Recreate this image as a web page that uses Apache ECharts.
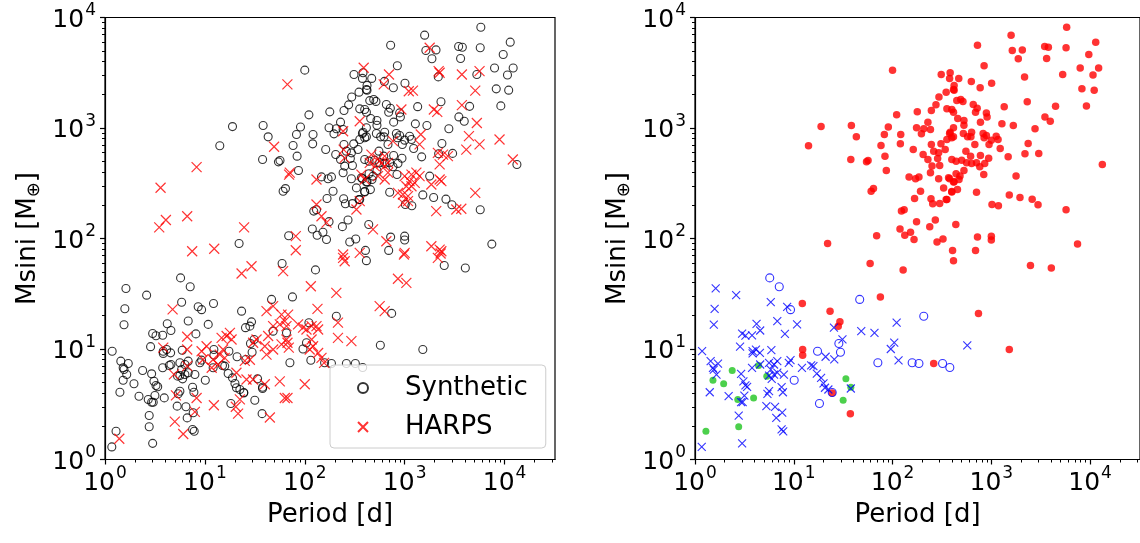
<!DOCTYPE html>
<html><head><meta charset="utf-8">
<script src="https://cdn.jsdelivr.net/npm/echarts@6/dist/echarts.min.js"></script>
<style>html,body{margin:0;padding:0;background:#fff}#c{width:1140px;height:543px}</style>
</head><body><div id="c"></div>
<script>
// ---- tick values ----
const majorTicks = [1, 10, 100, 1000, 10000];
const xMinorTicks = [2,3,4,5,6,7,8,9,20,30,40,50,60,70,80,90,200,300,400,500,600,700,800,900,2000,3000,4000,5000,6000,7000,8000,9000,20000,30000];
const yMinorTicks = [2,3,4,5,6,7,8,9,20,30,40,50,60,70,80,90,200,300,400,500,600,700,800,900,2000,3000,4000,5000,6000,7000,8000,9000];

// ---- synthetic planets [period d, Msini Mearth] by class ----
const synGiant = [
[100,3340],[311,3050],[383,3160],[378,2810],[414,2230],[349,2110],[295,1910],[275,1620],[247,1440],[178,1400],[355,1490],[414,1390],[110,1315],[18.9,1030],[38.3,1055],[43,832],[14.1,690],[37.8,519],[54.5,494],[56.5,508],[90.6,1020],[82.6,873],[121,873],[76.4,695],[120,719],[83.8,556],[86.5,412],[175,1005],[228,1130],[207,984],[242,968],[196,885],[162,638],[204,575],[247,708],[309,719],[261,617],[293,596],[286,530],[228,519],[341,638],[378,891],[398,815],[251,452],[300,458],[242,394],[147,361],[185,361],[369,354],
[5790,8170],[1585,6920],[724,5610],[3470,5470],[3780,5380],[11400,5980],[5710,5320],[1630,5020],[2060,5090],[1875,4230],[3630,4260],[9700,4620],[845,3660],[7940,3490],[12200,3490],[10700,3020],[5280,3050],[2170,2900],[468,2810],[627,2640],[771,2310],[1007,2540],[8260,2260],[11000,2200],[9180,1585],[420,2430],[420,2200],[2310,1730],[4470,1570],[1350,1560],[3490,1260],[3950,1150],[447,1770],[490,1810],[516,1740],[656,1630],[719,1510],[692,1390],[891,1370],[906,1260],[398,1470],[457,1220],[528,1170],[528,1060],[776,1130],[1280,1090],[1670,1055],[2770,984],[414,1005],[383,916],[414,832],[355,787],[521,891],[575,832],[631,916],[621,832],[826,891],[891,855],[845,815],[1000,776],[1120,843],[1170,787],[948,710],[681,710],[1230,653],[2360,724],[2190,585],[3020,589],[1480,548],[776,564],[940,533],[617,556],[553,617],[398,519],[440,501],[501,512],[562,484],[631,478],[708,484],[857,478],[764,446],[13300,468],[838,379],[1780,367],[440,385],[482,367],[528,412],
[378,347],[420,326],[471,342],[454,277],[398,266],[355,225],[708,262],[1520,248],[1950,235],[2590,227],[2970,202],[5710,182],[1016,203],[1180,198],[437,134],[724,103],[1000,105],[1000,97],[7460,89],[405,78],[414,63],[692,78],[2490,57],[4050,54],[741,21],[1520,9.9],
[171,347],[293,347],[414,324],[60.7,268],[64.1,283],[192,268],[329,287],[398,264],[167,230],[245,229],[255,206],[300,207],[349,225],[123,177],[131,182],[175,142],[271,147],[238,128],[119,122],[133,107],[152,114],[165,98],[282,93],[324,99],[69,106],[22,90],[59.3,59.4],[128,52],[75.3,29.6],[12.2,25.8],[23.3,22],[29.3,17.6],[28.2,16.1],[12.3,9.9],[12.3,8.8],[24.5,4.0],[37.4,2.6],[261,7.4]
];
const synLowX = [
[1.62,35.3],[2.61,30.7],[1.58,23.1],[5.85,26.5],[8.57,24.1],[1.55,16.6],[4.2,16.9],[4.57,14.7],[6.81,17.9],[10.8,16.7],[8.13,13.7],[3.0,13.8],[3.24,13.2],[3.78,13.3],[2.86,10.5],[1.18,9.55],[3.83,9.55],[4.14,9.89],[4.54,9.23],[5.93,9.75],[3.83,9.12],[1.44,7.76],[1.71,7.39],[1.52,6.76],[1.65,5.87],[1.55,6.52],[3.78,6.76],[4.57,7.24],[5.62,7.5],[6.31,7.24],[6.81,7.76],[5.85,6.52],[9.27,7.93],[8.91,7.5],[12.1,6.76],[15.0,7.1],[15.8,7.0],[2.93,5.96],[3.09,5.1],[3.24,4.68],[3.37,4.55],[3.16,3.79],[2.93,3.3],[3.04,3.3],[1.41,4.06],[2.19,3.74],[5.62,5.75],[6.31,5.87],[6.81,6.1],[7.94,5.87],[5.98,5.37],[7.53,4.51],[7.76,4.06],[5.62,4.15],[5.41,3.93],[5.28,3.04],[6.46,3.0],[6.65,2.38],[7.64,2.65],[7.53,1.87],[7.82,1.8],[2.77,2.5],[3.0,1.4],[1.17,1.3],[17.1,6.0],[18.9,5.48],[20.0,4.88],[20.7,4.46],[22.4,4.3],[21.0,8.51],[25.7,8.04],[31.1,12.2],[25.5,15.6],[48.2,14.5],[37.8,4.39],[110,17.3],[571,10.8],[65.6,14],[96,10],[104,11.4],[115,7.9]
];
const synLowO = [[5.71,44],[7.13,36.6],[9.27,22.7],[46.5,28.1],[207,19.8],[17.4,9.55],[29.7,9.35],[28.6,11.2],[10.1,5.22],[18.2,3.21],[24.5,4.04],[380,6.8],[71,7.5],[158,7.5],[185,7.4],[321,7.4]];
const synGreen = [[2.38,6.38],[1.52,5.22],[1.95,4.84],[4.4,7.08],[5.33,5.68],[2.71,3.49],[3.92,3.61],[2.77,1.98],[1.29,1.8],[33.7,5.37],[37.8,4.51],[31.6,3.44]];

// ---- HARPS planets [period d, Msini Mearth] ----
const harps = [
[67,2480],[49.3,676],[8.26,442],[69.7,379],[3.6,288],[6.65,159],[4.07,147],[3.49,126],[24.7,126],[7.46,76.7],[12.4,80.7],[81.3,105],[81.3,78.3],
[389,3510],[697,3050],[617,2480],[1780,5320],[2190,3270],[1100,2150],[1210,2180],[2120,1400],[1960,1470],[927,1470],[355,1150],[242,935],[1450,873],[764,760],[1410,710],[2150,596],[245,638],[251,537],[465,575],[541,526],[631,556],[447,484],[501,452],[585,478],[631,452],[681,484],[70.8,394],[131,342],[369,379],[398,342],[541,367],[631,342],[681,394],[1000,367],[1170,379],[1310,394],[1410,367],[1120,331],[1040,297],[1170,297],[1260,319],[857,259],[962,250],[1080,242],[1850,308],[2240,342],[2070,177],[962,210],[1080,218],[355,218],[329,183],[131,203],[147,159],[165,139],[482,121],[656,94.4],[1850,85.1],[1000,74.1],[242,71.6],[355,74.1],[2240,79.4],
[2240,3160],[3740,3050],[5620,3270],[5090,2180],[3740,1610],[5280,1110],[4400,843],[5620,710],[4140,638],[8910,787],[12100,519],[2420,575],[2710,556],[2240,468],[2330,331],[5090,259],[3290,183],[3690,186],[2330,76.7],[2150,66.8],
[242,66.8],[251,62.2],[984,71.6],[2290,73.1],[857,43.2],[1040,39.7],[115,37],[207,32.2],[134,23.1],[562,24.4],[631,22],[68.1,20.5],[65.6,16.1],[85.7,16.7],[96.2,15.6],[104,15],[117,16.1],[131,16.1],[136,15],[215,17.3],[215,12.6],[293,11.8],[67.1,11.4],[69.2,10.3],[117,12.2],[121,10.6],[112,9.9],[136,9.2],[147,8.3],[156,7.5],[100,4.8],[67.1,3.6],
[23.3,48.2],[29.3,56.1],[60.7,50.6],[4.75,22.8],[3.83,10.3],[6.65,12.9],[6.65,9.9],[4.9,5.9],[6.65,7.0],[5.13,3.8],[8.26,3.6],[7.94,2.7],[5.0,2.2],[6.07,1.7],[1.39,1.54],[12.3,3.1],[9.27,9.55],[10.4,10.6],[9.62,8.04],[12.1,8.04],[11.7,6.76],[14.7,12.6],[16.5,13.1],[17.8,14],[18.5,12.2],[15.2,9.9],[14.1,8.9],[15.8,8.3],[13.6,7.2],[20.7,6.1],[25.1,7.8],[28.2,8.0],[26.1,5.3],[20.4,3.0],[22.4,3.5],[21.5,2.6],[30.4,11.4],[32.9,12.2],[39.8,10.6],[41.4,22],[48.2,24.4],[58.5,20.5],[63.1,17.9],[48.2,16.1],[56.2,16.7],[43,13.1],[41.4,8.9],[48.2,9.9],[58.5,11],[65.6,12.2],[30.4,5.3],[39.8,4.8],[56.2,5.1],[44.7,2.4],[63.1,3.6]
];

const FONT = 'DejaVu Sans';
const XMAX = 32000, YMAX = 10000;
const X_SYMBOL = 'path://M0,0L10,10M0,10L10,0';

const tickRich = {
  b: {fontSize: 25, fontFamily: FONT, color: '#000', lineHeight: 30, verticalAlign: 'bottom'},
  p: {fontSize: 17, fontFamily: FONT, color: '#000', lineHeight: 14, verticalAlign: 'top', padding: [0, 0, 0, 1]}
};
function powLabel(v) {
  const e = Math.round(Math.log10(v));
  return '{b|10}{p|' + e + '}';
}
const nameStyle = {fontSize: 26, fontFamily: FONT, color: '#000', lineHeight: 30,
  rich: {s: {fontSize: 18, fontFamily: FONT, color: '#000', lineHeight: 14, verticalAlign: 'bottom'}}};

function xMain(g) {
  return {type: 'log', logBase: 10, gridIndex: g, min: 1, max: XMAX, position: 'bottom',
    name: 'Period [d]', nameLocation: 'middle', nameGap: 22, nameTextStyle: nameStyle,
    axisLine: {show: true, lineStyle: {color: '#000', width: 1.2}},
    splitLine: {show: false}, minorTick: {show: false},
    axisTick: {show: true, length: 5, lineStyle: {color: '#000', width: 1.2}, customValues: majorTicks},
    axisLabel: {customValues: majorTicks, formatter: powLabel, rich: tickRich, margin: 6}};
}
function xMinor(g) {
  return {type: 'log', logBase: 10, gridIndex: g, min: 1, max: XMAX, position: 'bottom', offset: 0,
    axisLine: {show: false}, splitLine: {show: false}, axisLabel: {show: false},
    axisTick: {show: true, length: 3, lineStyle: {color: '#000', width: 1}, customValues: xMinorTicks}};
}
function yMain(g) {
  return {type: 'log', logBase: 10, gridIndex: g, min: 1, max: YMAX, position: 'left',
    name: 'Msini [M{s|⊕}]', nameLocation: 'middle', nameGap: 62, nameRotate: 90, nameTextStyle: nameStyle,
    axisLine: {show: true, lineStyle: {color: '#000', width: 1.2}},
    splitLine: {show: false},
    axisTick: {show: true, length: 5, lineStyle: {color: '#000', width: 1.2}, customValues: majorTicks},
    axisLabel: {customValues: majorTicks, formatter: powLabel, rich: tickRich, margin: 9}};
}
function yMinor(g) {
  return {type: 'log', logBase: 10, gridIndex: g, min: 1, max: YMAX, position: 'left', offset: 0,
    axisLine: {show: false}, splitLine: {show: false}, axisLabel: {show: false},
    axisTick: {show: true, length: 3, lineStyle: {color: '#000', width: 1}, customValues: yMinorTicks}};
}

const allSyn = synGiant.concat(synLowX, synLowO, synGreen);

const chart = echarts.init(document.getElementById('c'), null, {renderer: 'canvas'});
chart.setOption({
  animation: false,
  backgroundColor: '#fff',
  grid: [
    {left: 105, top: 17.5, width: 450, height: 442, show: true, borderColor: '#000', borderWidth: 1.2, backgroundColor: 'transparent'},
    {left: 695, top: 17.5, width: 450, height: 442, show: true, borderColor: '#000', borderWidth: 1.2, backgroundColor: 'transparent'}
  ],
  xAxis: [xMain(0), xMain(1), xMinor(0), xMinor(1)],
  yAxis: [yMain(0), yMain(1), yMinor(0), yMinor(1)],
  legend: {
    orient: 'vertical', left: 330, top: 365,
    padding: [8, 18, 6, 27], itemGap: 9, itemWidth: 10, itemHeight: 10,
    backgroundColor: 'rgba(255,255,255,0.8)', borderColor: '#cccccc', borderWidth: 1, borderRadius: 4,
    textStyle: {fontSize: 26, fontFamily: FONT, color: '#000', lineHeight: 30, padding: [0, 0, 0, 32]},
    data: ['Synthetic', 'HARPS']
  },
  series: [
    {name: 'Synthetic', type: 'scatter', xAxisIndex: 0, yAxisIndex: 0, data: allSyn,
     symbol: 'circle', symbolSize: 8, silent: true,
     itemStyle: {color: 'rgba(0,0,0,0)', borderColor: '#000', borderWidth: 1.1}},
    {name: 'HARPS', type: 'scatter', xAxisIndex: 0, yAxisIndex: 0, data: harps,
     symbol: X_SYMBOL, symbolSize: 10, silent: true,
     itemStyle: {color: 'rgba(0,0,0,0)', borderColor: '#ff0000', borderWidth: 1.2}},
    {name: 'giant', type: 'scatter', xAxisIndex: 1, yAxisIndex: 1, data: synGiant,
     symbol: 'circle', symbolSize: 7.5, silent: true, itemStyle: {color: '#ff0000'}},
    {name: 'green', type: 'scatter', xAxisIndex: 1, yAxisIndex: 1, data: synGreen,
     symbol: 'circle', symbolSize: 7, silent: true, itemStyle: {color: '#1fc41f'}},
    {name: 'lowX', type: 'scatter', xAxisIndex: 1, yAxisIndex: 1, data: synLowX,
     symbol: X_SYMBOL, symbolSize: 8, silent: true,
     itemStyle: {color: 'rgba(0,0,0,0)', borderColor: '#0000ff', borderWidth: 1.1}},
    {name: 'lowO', type: 'scatter', xAxisIndex: 1, yAxisIndex: 1, data: synLowO,
     symbol: 'circle', symbolSize: 8, silent: true,
     itemStyle: {color: 'rgba(0,0,0,0)', borderColor: '#0000ff', borderWidth: 1.1}}
  ]
});
</script>
</body></html>
